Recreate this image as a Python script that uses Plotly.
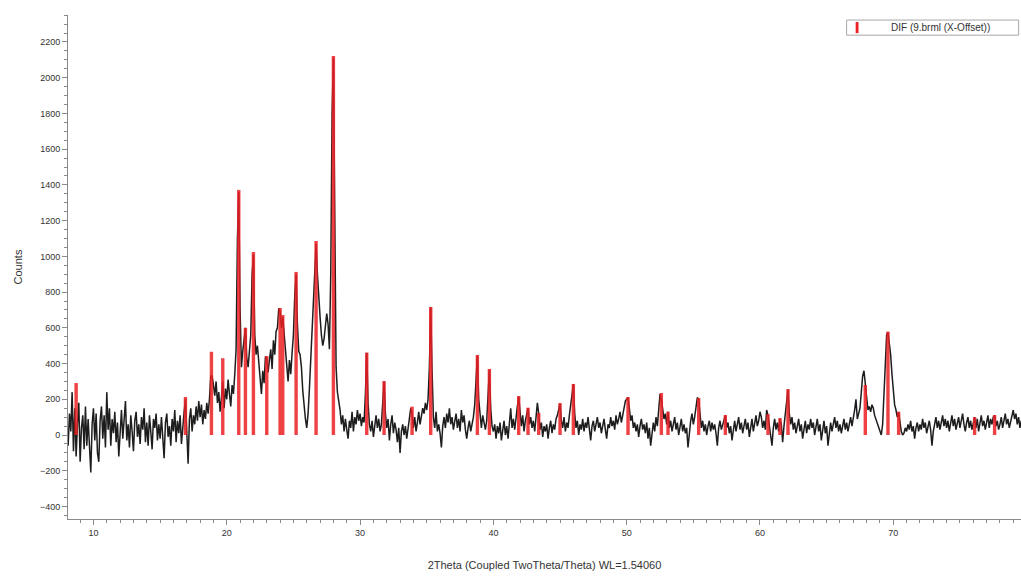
import numpy as np
import plotly.graph_objects as go

# Measured pattern: counts every 0.1 deg from 8.0 to 80.0 (2Theta)
scan_start = 8.0
scan_step = 0.1
counts = [
    40, -60, 120, 20, 240, -90, 150, -120, 60, 180,          # 8
    -150, 40, 110, -80, 160, -60, 90, -40, -210, 60,         # 9
    150, -30, 120, -100, -150, 80, 160, -20, 110, -70,       # 10
    240, 30, 150, -60, 90, 10, 130, -40, 70, -120,           # 11
    50, 140, -20, 90, 190, -30, 60, -70, 110, 20,            # 12
    -90, 80, 130, -10, 60, -50, 100, 30, 150, -40,           # 13
    70, -60, 110, 20, -80, 90, 40, 120, -30, 60,             # 14
    -20, 100, 10, -130, 70, 120, -10, 50, -60, 90,           # 15
    20, 140, -40, 80, 10, 110, -50, 60, 130, 200,            # 16
    40, -160, 90, 150, 20, 110, 60, 160, 80, 190,            # 17
    100, 170, 60, 140, 90, 180, 120, 200, 330, 330,          # 18
    280, 220, 300, 180, 240, 130, 210, 300, 150, 260,        # 19
    200, 310, 230, 160, 280, 230, 340, 480, 1100, 1360,      # 20
    700, 380, 470, 540, 600, 430, 380, 470, 560, 900,        # 21
    1010, 560, 450, 500, 380, 320, 230, 360, 290, 440,       # 22
    430, 350, 420, 480, 370, 530, 450, 580, 600, 710,        # 23
    690, 600, 660, 560, 470, 380, 300, 420, 340, 460,        # 24
    560, 780, 900, 620, 470, 450, 380, 250, 160, 90,         # 25
    40, 120, 260, 420, 560, 760, 950, 1070, 900, 740,        # 26
    660, 560, 500, 540, 600, 680, 620, 480, 900, 1800,       # 27
    2110, 1100, 380, 240, 190, 140, 60, 110, 20, 90,         # 28
    30, -20, 80, 40, 130, 20, 100, 60, 140, 80,              # 29
    120, 50, 100, 70, 230, 460, 180, 60, 20, 80,             # 30
    -10, 70, 110, 40, 90, 20, 60, 180, 300, 120,             # 31
    40, 90, -30, 60, 110, 10, 70, 30, -40, 40,               # 32
    -100, 20, 60, 0, 50, -20, 40, 90, 150, 120,              # 33
    40, 100, 20, 70, 130, 60, 100, 150, 120, 180,            # 34
    140, 200, 380, 715, 360, 100, 40, 130, 20, 60,           # 35
    10, -70, 50, 100, 40, 120, 70, 150, 60, 100,             # 36
    30, 80, 120, 40, 90, 20, 140, 70, 110, 30,               # 37
    -20, 40, 80, 20, 60, 100, 170, 360, 445, 200,            # 38
    90, 40, 110, 60, 30, 80, 230, 365, 150, 50,              # 39
    20, 60, -20, 50, 10, 70, -30, 40, 80, 0,                 # 40
    50, -20, 60, 150, 40, 90, 30, 110, 160, 215,             # 41
    100, 50, 110, 20, 80, 120, 150, 60, 100, 40,             # 42
    80, 20, 110, 180, 120, 30, 70, -10, 50, 20,              # 43
    60, -20, 40, 80, 10, 60, 30, 90, 110, 150,               # 44
    175, 80, 40, 100, 20, 70, 40, 110, 160, 230,             # 45
    285, 120, 40, 80, 0, 60, 30, 90, 20, 70,                 # 46
    40, 100, 30, -30, 50, 80, 20, 60, 100, 40,               # 47
    70, 10, 50, 90, 30, -20, 60, 40, 100, 50,                # 48
    80, 30, 110, 60, 90, 130, 70, 110, 150, 190,             # 49
    200, 210, 150, 80, 110, 40, 70, 20, 60, -10,             # 50
    50, 90, 30, 60, 10, 70, -20, 40, -60, 30,                # 51
    70, 20, 100, 50, 130, 230, 200, 140, 90, 120,            # 52
    60, 130, 40, 80, 20, 60, 100, 30, 70, 0,                 # 53
    50, 90, 20, 60, 10, 40, -70, 30, 80, 120,                # 54
    60, 100, 150, 210, 200, 90, 40, 80, 20, 60,              # 55
    0, 50, 80, 20, 70, 30, 60, 10, -60, 40,                  # 56
    80, 30, 60, 90, 110, 40, 70, 10, 50, -30,                # 57
    40, 80, 20, 60, 100, 30, 70, 10, 50, 90,                 # 58
    30, 70, -10, 40, 90, 20, 60, 110, 50, 80,                # 59
    130, 100, 40, 80, 30, 140, 110, 50, 10, -60,             # 60
    40, 90, 30, 70, 20, 90, 60, -40, 50, 120,                # 61
    180, 255, 120, 60, 100, 30, 70, 10, 50, 90,              # 62
    20, 60, -20, 40, 80, 10, 60, 30, 90, 40,                 # 63
    70, 0, 50, 90, 20, 60, -30, 40, 80, 10,                  # 64
    50, -60, 30, 70, 20, 60, 100, 40, 80, 20,                # 65
    60, 10, 50, 90, 30, 70, 20, 60, 100, 50,                 # 66
    90, 140, 200, 90, 120, 150, 240, 330, 360, 280,          # 67
    180, 140, 160, 130, 170, 150, 110, 90, 60, 40,           # 68
    20, 0, 60, 200, 420, 560, 575, 520, 450, 340,            # 69
    240, 170, 140, 100, 125, 60, 20, 0, 10, 40,              # 70
    20, 60, 30, 80, 20, 50, -20, 40, 70, 20,                 # 71
    60, 30, 90, 40, 70, 10, 50, 80, 30, -60,                 # 72
    20, 60, 100, 40, 80, 30, 70, 110, 50, 90,                # 73
    40, 80, 20, 70, 110, 50, 90, 30, 70, 100,                # 74
    40, 80, 120, 60, 20, 70, 100, 40, 80, 30,                # 75
    70, 100, 40, 90, 20, 60, 110, 50, 80, 30,                # 76
    70, 110, 40, 90, 60, 100, 110, 50, 80, 30,               # 77
    60, 100, 40, 80, 120, 60, 90, 40, 70, 110,               # 78
    140, 90, 120, 60, 100, 40, 80, 60, 90, 50,               # 79
    70,                                                      # 80
]
two_theta = np.round(scan_start + scan_step * np.arange(len(counts)), 2)

# Reference (DIF) stick pattern
dif_pos = [8.7, 16.9, 18.85, 19.7, 20.9, 21.4, 22.0, 23.0, 24.0, 24.2, 25.2, 26.7,
           28.0, 30.5, 31.8, 33.9, 35.3, 38.8, 39.7, 41.9, 42.6, 43.4, 45.0, 46.0,
           50.1, 52.6, 53.1, 55.4, 57.4, 60.6, 61.5, 62.1, 67.9, 69.6, 70.4, 76.1, 77.6]
dif_height = [291, 213, 466, 430, 1372, 600, 1025, 442, 711, 672, 913, 1086,
              2122, 461, 302, 159, 717, 448, 370, 218, 153, 123, 179, 286,
              213, 235, 131, 207, 112, 117, 95, 257, 280, 579, 131, 100, 112]
legend_label = "DIF (9.brml (X-Offset))"

x_ticks = [10, 20, 30, 40, 50, 60, 70, 80]
y_ticks = list(range(-400, 2201, 200))

FONT = "Liberation Sans, Arial, sans-serif"
AX = "#8a8a8a"
RED = "rgb(236,32,36)"

# stick segments (base at 0 up to the listed height), built from the arrays
stick_x, stick_y = [], []
for p, h in zip(dif_pos, dif_height):
    stick_x += [p, p, None]
    stick_y += [0, h, None]

fig = go.Figure()
fig.add_trace(go.Scatter(
    x=two_theta, y=counts, mode="lines",
    line=dict(color="rgba(10,10,10,0.92)", width=1.5),
    showlegend=False, name="9.brml",
))
fig.add_trace(go.Scatter(
    x=stick_x, y=stick_y, mode="lines",
    line=dict(color=RED, width=3.4), opacity=0.85,
    name=legend_label, showlegend=False,
))

# Legend box drawn in paper space (small box as in the reference)
fig.add_shape(type="rect", xref="paper", yref="paper",
              x0=0.817, x1=0.9975, y0=0.960, y1=0.990,
              line=dict(color="#a8a8a8", width=1), fillcolor="white", layer="above")
fig.add_shape(type="rect", xref="paper", yref="paper",
              x0=0.8265, x1=0.8295, y0=0.964, y1=0.986,
              line=dict(width=0), fillcolor=RED, layer="above")
fig.add_annotation(xref="paper", yref="paper", x=0.862, y=0.975,
                   xanchor="left", yanchor="middle", showarrow=False,
                   text=legend_label, font=dict(size=10, color="#333333"))

fig.update_layout(
    width=1021, height=576,
    margin=dict(l=68, r=0, t=15, b=57),
    paper_bgcolor="white", plot_bgcolor="white",
    font=dict(family=FONT, size=9, color="#333333"),
    showlegend=False,
)
fig.update_xaxes(
    range=[8.09, 79.58], automargin=False,
    tickvals=x_ticks, ticks="outside", ticklen=5, tickcolor=AX,
    showline=True, linecolor=AX, linewidth=1,
    showgrid=False, zeroline=False,
    minor=dict(dtick=1, tick0=0, ticks="outside", ticklen=3, tickcolor=AX, showgrid=False),
    tickfont=dict(size=9, color="#333333"),
    title=dict(text="2Theta (Coupled TwoTheta/Theta) WL=1.54060",
               font=dict(size=11, color="#333333"), standoff=24),
)
fig.update_yaxes(
    range=[-470, 2351], automargin=False,
    tickvals=y_ticks, ticks="outside", ticklen=5, tickcolor=AX,
    showline=True, linecolor=AX, linewidth=1,
    showgrid=False, zeroline=False,
    minor=dict(dtick=50, tick0=0, ticks="outside", ticklen=3, tickcolor=AX, showgrid=False),
    tickfont=dict(size=9, color="#333333"),
    title=dict(text="Counts", font=dict(size=11, color="#333333"), standoff=15),
)

fig.write_html("out.html", config={"displayModeBar": False},
               post_script="document.body.style.margin='0';document.body.style.overflow='hidden';")
